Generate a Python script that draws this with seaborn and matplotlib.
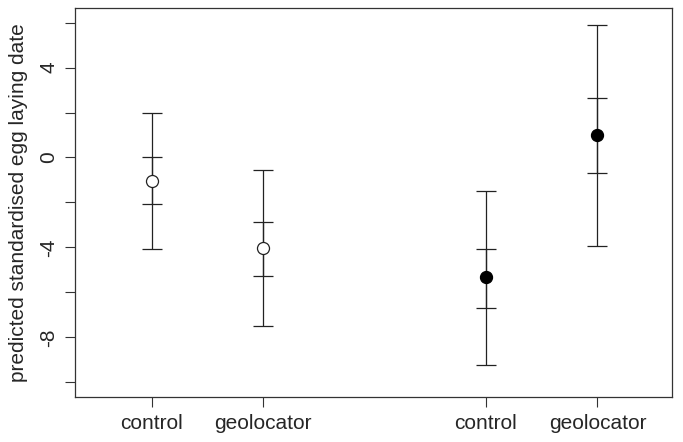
import matplotlib
matplotlib.use("Agg")
import matplotlib.pyplot as plt
import seaborn as sns
import pandas as pd

categories = ["control", "geolocator", "control", "geolocator"]
positions = [1, 2, 4, 5]
estimate = [-1.05, -4.03, -5.32, 1.02]
inner_low = [-2.09, -5.28, -6.68, -0.68]
inner_high = [0.0, -2.88, -4.06, 2.65]
outer_low = [-4.09, -7.5, -9.23, -3.93]
outer_high = [1.98, -0.56, -1.47, 5.91]
group = ["open", "open", "filled", "filled"]
ytick_values = [-10, -8, -6, -4, -2, 0, 2, 4, 6]
ytick_labels = ["", "-8", "", "-4", "", "0", "", "4", ""]

sns.set_style("white")
plt.rcParams['font.family'] = ['Liberation Sans', 'DejaVu Sans']

df = pd.DataFrame({"x": positions, "y": estimate, "group": group})

fig = plt.figure(figsize=(6.83, 4.42), dpi=100)
ax = fig.add_axes([0.1094, 0.101, 0.8746, 0.882])

lc = "#222222"
for x, lo, hi in zip(positions, outer_low, outer_high):
    ax.errorbar([x], [(lo + hi) / 2], yerr=[[(hi - lo) / 2], [(hi - lo) / 2]],
                fmt="none", ecolor=lc, elinewidth=0.9, capsize=7, capthick=0.9, zorder=1)
for x, lo, hi in zip(positions, inner_low, inner_high):
    ax.errorbar([x], [(lo + hi) / 2], yerr=[[(hi - lo) / 2], [(hi - lo) / 2]],
                fmt="none", ecolor=lc, elinewidth=0.9, capsize=7, capthick=0.9, zorder=1)

open_df = df[df.group == "open"]
filled_df = df[df.group == "filled"]
sns.scatterplot(data=open_df, x="x", y="y", ax=ax, marker="o", s=75,
                facecolor="white", edgecolor=lc, linewidth=0.9, zorder=3, legend=False)
sns.scatterplot(data=filled_df, x="x", y="y", ax=ax, marker="o", s=75,
                color="black", edgecolor="black", linewidth=0.9, zorder=3, legend=False)

ax.set_xlim(0.31, 5.67)
ax.set_ylim(-10.67, 6.67)
ax.set_xticks(positions)
ax.set_xticklabels(categories, fontsize=15)
ax.set_yticks(ytick_values)
ax.set_yticklabels(ytick_labels, fontsize=15, rotation=90, va="center")
ax.tick_params(axis="both", direction="out", length=7, width=0.8, color="#333333",
               left=True, bottom=True, pad=5)
ax.tick_params(axis="x", pad=5)
ax.set_xlabel("")
ax.set_ylabel("predicted standardised egg laying date", fontsize=15, labelpad=8)
for sp in ax.spines.values():
    sp.set_color("#333333")
    sp.set_linewidth(0.9)

fig.savefig("out.png", dpi=100)
